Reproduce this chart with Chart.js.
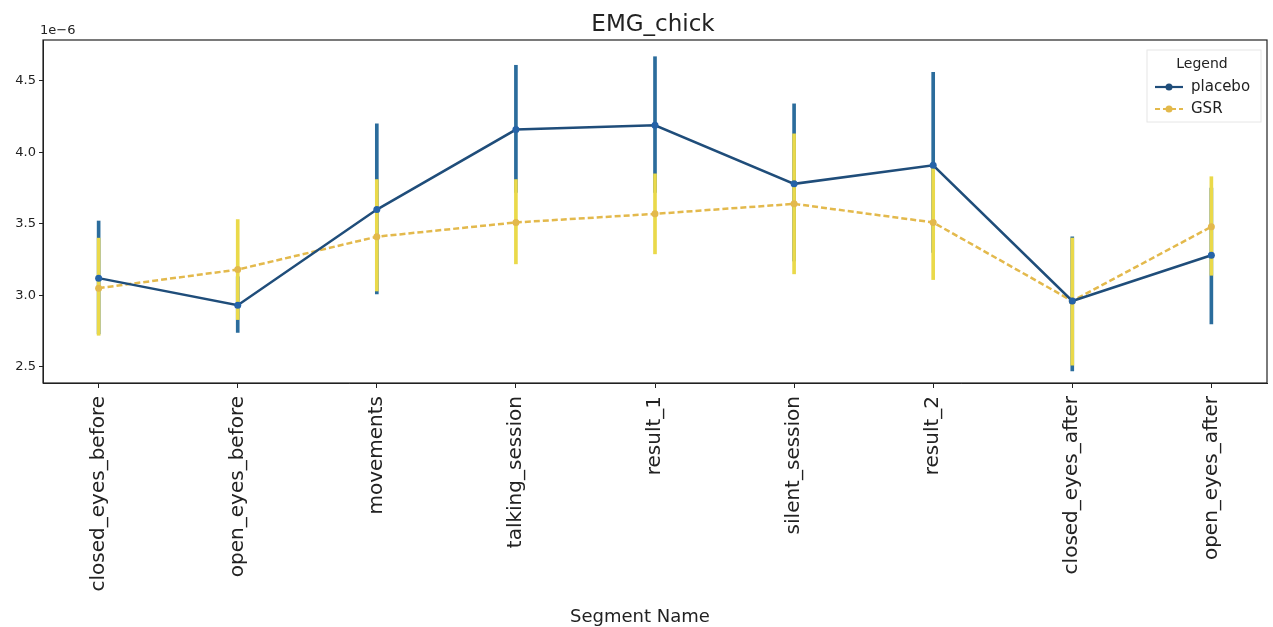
<!DOCTYPE html>
<html>
<head>
<meta charset="utf-8">
<script src="https://cdn.jsdelivr.net/npm/chart.js@4.4.1/dist/chart.umd.min.js"></script>
<style>
  html, body { margin: 0; padding: 0; background: #fff; }
  #wrap { width: 1273px; height: 627px; }
</style>
</head>
<body>
<div id="wrap"><canvas id="emgChart" width="1273" height="627"></canvas></div>
<script>
// values are in units of 1e-6
const segments = ["closed_eyes_before", "open_eyes_before", "movements", "talking_session",
  "result_1", "silent_session", "result_2", "closed_eyes_after", "open_eyes_after"];

const placeboMean = [3.12, 2.93, 3.60, 4.16, 4.19, 3.78, 3.91, 2.96, 3.28];
const placeboLow  = [2.73, 2.74, 3.01, 3.72, 3.72, 3.24, 3.30, 2.47, 2.80];
const placeboHigh = [3.52, 3.13, 4.20, 4.61, 4.67, 4.34, 4.56, 3.41, 3.75];

const gsrMean = [3.05, 3.18, 3.41, 3.51, 3.57, 3.64, 3.51, 2.96, 3.48];
const gsrLow  = [2.72, 2.83, 3.03, 3.22, 3.29, 3.15, 3.11, 2.51, 3.14];
const gsrHigh = [3.40, 3.53, 3.81, 3.81, 3.85, 4.13, 3.91, 3.40, 3.83];

const yTicks = [2.5, 3.0, 3.5, 4.0, 4.5];

const FONT = "'DejaVu Sans', sans-serif";
const PLACEBO = "#1f4d7a";
const PLACEBO_BAR = "#2b6c9c";
const GSR = "#e3b94c";
const GSR_BAR = "#ead94a";

const points = (vals) => vals.map((v, i) => ({ x: i, y: v }));
const ranges = (lo, hi) => lo.map((v, i) => ({ x: i, y: [v, hi[i]] }));

// frame, titles, offset text and legend box
const extras = {
  id: "extras",
  afterDraw(chart) {
    const { ctx, chartArea: a } = chart;
    ctx.save();
    ctx.strokeStyle = "#222";
    ctx.lineWidth = 1.2;
    ctx.strokeRect(a.left, a.top, a.right - a.left, a.bottom - a.top);

    ctx.fillStyle = "#222";
    ctx.textAlign = "center";
    ctx.textBaseline = "alphabetic";
    ctx.font = "23px " + FONT;
    ctx.fillText("EMG_chick", (a.left + a.right) / 2 - 2, 31);
    ctx.font = "18px " + FONT;
    ctx.fillText("Segment Name", 640, 622);

    ctx.font = "13px " + FONT;
    ctx.textAlign = "left";
    ctx.textBaseline = "bottom";
    ctx.fillText("1e\u22126", a.left - 3, a.top - 3);

    // legend
    const bx = a.right - 120, by = a.top + 10, bw = 114, bh = 72;
    ctx.fillStyle = "rgba(255,255,255,0.85)";
    ctx.strokeStyle = "#e6e6e6";
    ctx.lineWidth = 1;
    ctx.fillRect(bx, by, bw, bh);
    ctx.strokeRect(bx, by, bw, bh);
    ctx.fillStyle = "#222";
    ctx.font = "14px " + FONT;
    ctx.textAlign = "center";
    ctx.textBaseline = "middle";
    ctx.fillText("Legend", bx + bw / 2 - 2, by + 14);
    ctx.font = "15px " + FONT;
    const items = [["placebo", PLACEBO, []], ["GSR", GSR, [5, 3]]];
    items.forEach(([name, col, dash], k) => {
      const y = by + 37 + k * 22;
      ctx.strokeStyle = col;
      ctx.lineWidth = 2.2;
      ctx.setLineDash(dash);
      ctx.beginPath();
      ctx.moveTo(bx + 8, y);
      ctx.lineTo(bx + 36, y);
      ctx.stroke();
      ctx.setLineDash([]);
      ctx.fillStyle = col;
      ctx.beginPath();
      ctx.arc(bx + 22, y, 3.5, 0, Math.PI * 2);
      ctx.fill();
      ctx.fillStyle = "#222";
      ctx.textAlign = "left";
      ctx.fillText(name, bx + 44, y);
    });
    ctx.restore();
  }
};

new Chart(document.getElementById("emgChart"), {
  data: {
    datasets: [
      {
        type: "bar", label: "placebo ci", data: ranges(placeboLow, placeboHigh),
        backgroundColor: PLACEBO_BAR, barThickness: 3, grouped: false, order: 4
      },
      {
        type: "bar", label: "GSR ci", data: ranges(gsrLow, gsrHigh),
        backgroundColor: GSR_BAR, barThickness: 3, grouped: false, order: 3
      },
      {
        type: "line", label: "GSR", data: points(gsrMean),
        borderColor: GSR, backgroundColor: GSR, borderWidth: 2.5, borderDash: [6, 3],
        pointRadius: 3.5, pointBorderWidth: 0, tension: 0, order: 2
      },
      {
        type: "line", label: "placebo", data: points(placeboMean),
        borderColor: PLACEBO, backgroundColor: "#2563a8", borderWidth: 2.5,
        pointRadius: 3.5, pointBorderWidth: 0, tension: 0, order: 1
      }
    ]
  },
  options: {
    responsive: false,
    animation: false,
    layout: { padding: { left: 0, right: 6, top: 40, bottom: 0 } },
    plugins: {
      legend: { display: false },
      tooltip: { enabled: false },
      title: { display: false }
    },
    scales: {
      x: {
        type: "linear", min: -0.4, max: 8.4, offset: false,
        afterBuildTicks: (s) => { s.ticks = segments.map((_, i) => ({ value: i })); },
        afterFit: (s) => { s.height = 244; },
        ticks: {
          autoSkip: false, minRotation: 90, maxRotation: 90, color: "#222", padding: 8,
          font: { family: FONT, size: 20 },
          callback: (v) => segments[v]
        },
        grid: { display: true, offset: false, drawOnChartArea: false, drawTicks: true, tickLength: 5, color: "#222" },
        border: { display: true, color: "#222" },
        title: { display: false }
      },
      y: {
        type: "linear", min: 2.386, max: 4.787,
        afterBuildTicks: (s) => { s.ticks = yTicks.map((v) => ({ value: v })); },
        afterFit: (s) => { s.width = 43; },
        ticks: {
          color: "#222", padding: 3, font: { family: FONT, size: 13 },
          callback: (v) => v.toFixed(1)
        },
        grid: { display: true, drawOnChartArea: false, drawTicks: true, tickLength: 4, color: "#222" },
        border: { display: true, color: "#222" }
      }
    }
  },
  plugins: [extras]
});
</script>
</body>
</html>
